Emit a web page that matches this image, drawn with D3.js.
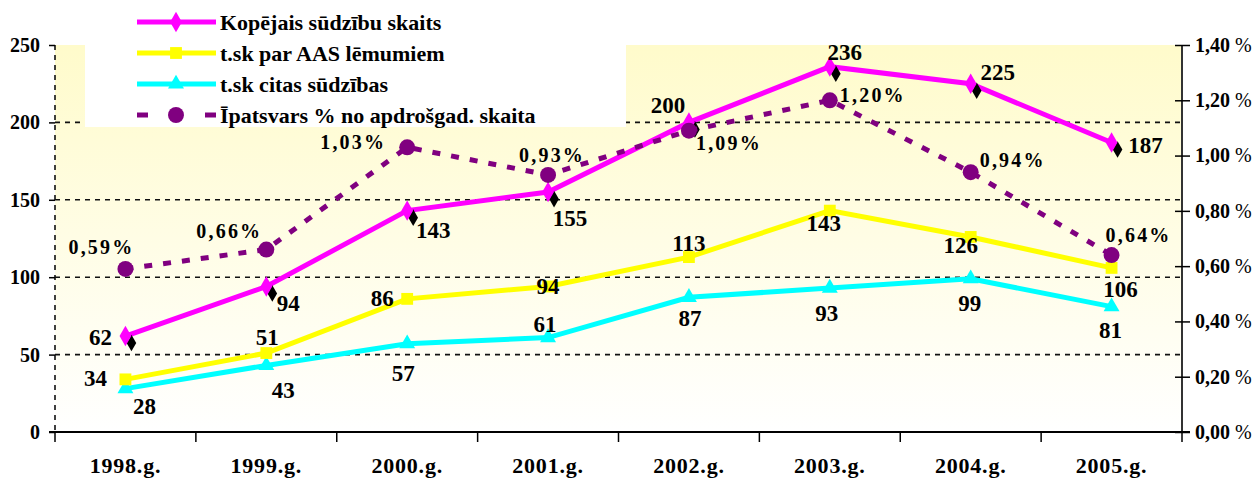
<!DOCTYPE html>
<html><head><meta charset="utf-8">
<script src="https://cdn.jsdelivr.net/npm/d3@7"></script>
<style>
html,body{margin:0;padding:0;background:#fff;}
svg{display:block;}
</style></head>
<body>
<svg id="chart" width="1258" height="479"></svg>
<script>
// ---- data ----
const categories = ["1998.g.","1999.g.","2000.g.","2001.g.","2002.g.","2003.g.","2004.g.","2005.g."];
const totalComplaints = [62, 94, 143, 155, 200, 236, 225, 187];
const aasDecisions   = [34, 51, 86, 94, 113, 143, 126, 106];
const otherComplaints = [28, 43, 57, 61, 87, 93, 99, 81];
const sharePct = [0.59, 0.66, 1.03, 0.93, 1.09, 1.20, 0.94, 0.64];
const leftTicks = [0, 50, 100, 150, 200, 250];
const rightTicks = [0, 0.2, 0.4, 0.6, 0.8, 1.0, 1.2, 1.4];
const seriesNames = ["Kopējais sūdzību skaits", "t.sk par AAS lēmumiem", "t.sk citas sūdzības", "Īpatsvars % no apdrošgad. skaita"];

// label offsets (styling: placement relative to point)
const totalOff = [[-25,1],[22,16],[26,19],[22,26],[-21,-17],[15,-15],[27,-12],[34,2]];
const aasOff   = [[-30,-1],[1,-16],[-25,-1],[0,-1],[0,-14],[-6,12],[-10,8],[9,21]];
const otherOff = [[19,17],[17,25],[-4,29],[-3,-14],[1,21],[-3,25],[-1,24],[-1,23]];
const shareOff = [[-24,-22],[-37,-19],[-54,-5],[4,-20],[40,12],[43,-5],[42,-12],[27,-20]];

const FONT = "'Liberation Serif','Times New Roman',serif";
const svg = d3.select("#chart");
const L = 55, R = 1182, T = 45, B = 432;

const x = d3.scaleBand().domain(categories).range([L, R]).paddingInner(0).paddingOuter(0);
const yL = d3.scaleLinear().domain([0, 250]).range([B, T]);
const yR = d3.scaleLinear().domain([0, 1.4]).range([B, T]);
const cx = c => x(c) + x.bandwidth() / 2;
const pctFmt = d => d3.format(".2f")(d).replace(".", ",");

function styleText(sel, size, weight){
  sel.style("font-family", FONT).style("font-size", size).style("font-weight", weight || "bold").style("fill", "#000");
}

// background gradient
const defs = svg.append("defs");
const grad = defs.append("linearGradient").attr("id","bg").attr("x1",0).attr("y1",0).attr("x2",0).attr("y2",1);
grad.append("stop").attr("offset","0%").attr("stop-color","#FFFBCB");
grad.append("stop").attr("offset","100%").attr("stop-color","#FFFFFF");
svg.append("rect").attr("x",L).attr("y",T).attr("width",R-L).attr("height",B-T).attr("fill","url(#bg)");

// gridlines
svg.append("g").selectAll("line").data(leftTicks.filter(d => d > 0 && d < 250)).join("line")
  .attr("x1", L).attr("x2", R).attr("y1", d => yL(d)).attr("y2", d => yL(d))
  .attr("stroke","#111").attr("stroke-width",1.6).attr("stroke-dasharray","5,5");

// left axis (dashed line)
svg.append("line").attr("x1",L).attr("x2",L).attr("y1",T).attr("y2",B)
  .attr("stroke","#111").attr("stroke-width",1.6).attr("stroke-dasharray","5,5");
const gL = svg.append("g").attr("transform",`translate(${L},0)`)
  .call(d3.axisLeft(yL).tickValues(leftTicks).tickSize(6).tickFormat(d3.format("d")));
gL.select(".domain").remove();
gL.selectAll(".tick line").attr("stroke","#000").attr("stroke-width",1.5);
gL.selectAll(".tick text").attr("x",-15).call(styleText, "20px");

// right axis
const gR = svg.append("g").attr("transform",`translate(${R},0)`)
  .call(d3.axisRight(yR).tickValues(rightTicks).tickSize(8).tickFormat(pctFmt));
gR.select(".domain").attr("stroke","#333").attr("stroke-width",2).attr("d",`M0,${T}V${B}`);
gR.selectAll(".tick line").attr("x1",-7).attr("stroke","#000").attr("stroke-width",1.5);
gR.selectAll(".tick text").each(function(d){
  const t = d3.select(this);
  t.text(null).attr("x",13).call(styleText, "20px");
  t.append("tspan").style("font-weight","bold").text(pctFmt(d));
  t.append("tspan").style("font-weight","normal").attr("dx",5).text("%");
});

// bottom axis
const gB = svg.append("g").attr("transform",`translate(0,${B})`)
  .call(d3.axisBottom(x).tickSize(0));
gB.select(".domain").attr("stroke","#000").attr("stroke-width",2).attr("d",`M${L-6},0H${R+8}`);
gB.selectAll(".tick text").attr("y",41).attr("dy",0).style("letter-spacing","0.8px").call(styleText, "22px");
svg.append("g").selectAll("line").data(d3.range(categories.length + 1)).join("line")
  .attr("x1", i => L + i * x.bandwidth()).attr("x2", i => L + i * x.bandwidth())
  .attr("y1", B).attr("y2", B + 10).attr("stroke","#000").attr("stroke-width",1.5);

// legend box
svg.append("rect").attr("x",85).attr("y",0).attr("width",541).attr("height",127).attr("fill","#fff");

// series lines
function lineFor(vals, scale){
  return d3.line().x((d,i) => cx(categories[i])).y(d => scale(d))(vals);
}
svg.append("path").attr("d", lineFor(otherComplaints, yL)).attr("fill","none").attr("stroke","#00FFFF").attr("stroke-width",5);
svg.append("path").attr("d", lineFor(aasDecisions, yL)).attr("fill","none").attr("stroke","#FFFF00").attr("stroke-width",5);
svg.append("path").attr("d", lineFor(totalComplaints, yL)).attr("fill","none").attr("stroke","#FF00FF").attr("stroke-width",5);

const tri = d3.symbol().type(d3.symbolTriangle).size(110);
const sq = d3.symbol().type(d3.symbolSquare).size(140);
const dia = d3.symbol().type(d3.symbolDiamond).size(120);
const diaB = d3.symbol().type(d3.symbolDiamond).size(80);
const circ = d3.symbol().type(d3.symbolCircle).size(200);

svg.append("g").selectAll("path").data(otherComplaints).join("path")
  .attr("d", tri).attr("fill","#00FFFF")
  .attr("transform",(d,i) => `translate(${cx(categories[i])},${yL(d)})`);
svg.append("g").selectAll("path").data(aasDecisions).join("path")
  .attr("d", sq).attr("fill","#FFFF00")
  .attr("transform",(d,i) => `translate(${cx(categories[i])},${yL(d)})`);
svg.append("g").selectAll("path").data(totalComplaints).join("path")
  .attr("d", diaB).attr("fill","#000")
  .attr("transform",(d,i) => `translate(${cx(categories[i])+6},${yL(d)+7})`);
svg.append("g").selectAll("path").data(totalComplaints).join("path")
  .attr("d", dia).attr("fill","#FF00FF")
  .attr("transform",(d,i) => `translate(${cx(categories[i])},${yL(d)})`);

// share (dashed purple)
svg.append("path").attr("d", lineFor(sharePct, yR)).attr("fill","none").attr("stroke","#800080")
  .attr("stroke-width",5).attr("stroke-dasharray","8,11");
svg.append("g").selectAll("path").data(sharePct).join("path")
  .attr("d", circ).attr("fill","#800080")
  .attr("transform",(d,i) => `translate(${cx(categories[i])},${yR(d)})`);

// data labels
function labels(vals, scale, off, fmt, fs, ls){
  svg.append("g").selectAll("text").data(vals).join("text")
    .attr("x",(d,i) => cx(categories[i]) + off[i][0])
    .attr("y",(d,i) => scale(d) + off[i][1])
    .attr("dy","0.35em").attr("text-anchor","middle")
    .style("letter-spacing", ls)
    .call(styleText, fs)
    .text(fmt);
}
labels(totalComplaints, yL, totalOff, d => d, "23px", "0px");
labels(aasDecisions, yL, aasOff, d => d, "23px", "0px");
labels(otherComplaints, yL, otherOff, d => d, "23px", "0px");
labels(sharePct, yR, shareOff, d => pctFmt(d) + "%", "20px", "2.2px");

// legend
const legY = [22, 53, 84, 115];
const legColors = ["#FF00FF","#FFFF00","#00FFFF","#800080"];
const legSym = [dia, sq, tri, circ];
const lg = svg.append("g");
legY.forEach((yy, i) => {
  if (i < 3) {
    lg.append("line").attr("x1",137).attr("x2",216).attr("y1",yy).attr("y2",yy).attr("stroke",legColors[i]).attr("stroke-width",5);
  } else {
    lg.append("line").attr("x1",137).attr("x2",148).attr("y1",yy).attr("y2",yy).attr("stroke",legColors[i]).attr("stroke-width",5);
    lg.append("line").attr("x1",205).attr("x2",216).attr("y1",yy).attr("y2",yy).attr("stroke",legColors[i]).attr("stroke-width",5);
  }
  lg.append("path").attr("d", legSym[i]).attr("fill", legColors[i]).attr("transform",`translate(176,${yy})`);
  lg.append("text").attr("x",220).attr("y",yy).attr("dy","0.35em").call(styleText, "22px").text(seriesNames[i]);
});
</script>
</body></html>
